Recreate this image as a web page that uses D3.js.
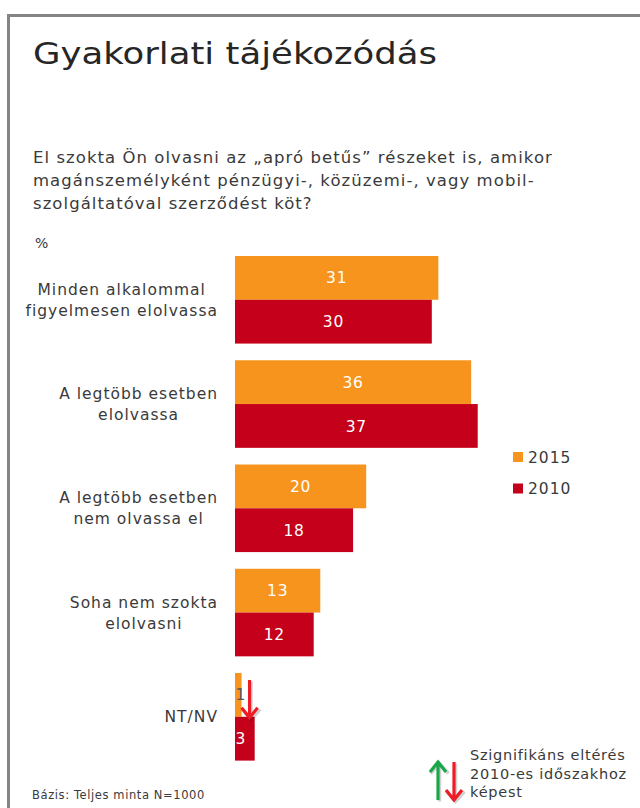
<!DOCTYPE html>
<html><head><meta charset="utf-8">
<script src="https://cdn.jsdelivr.net/npm/d3@7"></script>
<style>
body{margin:0;background:#fff;}
svg{display:block;}
text{font-family:"DejaVu Sans",Verdana,sans-serif;}
</style></head>
<body><svg id="c" width="640" height="808"></svg>
<script>
const categories = [
  ["Minden alkalommal","figyelmesen elolvassa"],
  ["A legtöbb esetben","elolvassa"],
  ["A legtöbb esetben","nem olvassa el"],
  ["Soha nem szokta","elolvasni"],
  ["NT/NV"]
];
const series = ["2015","2010"];
const values2015 = [31,36,20,13,1];
const values2010 = [30,37,18,12,3];
const significantDown = [false,false,false,false,true];
const title = "Gyakorlati tájékozódás";
const question = ["El szokta Ön olvasni az „apró betűs” részeket is, amikor",
  "magánszemélyként pénzügyi-, közüzemi-, vagy mobil-",
  "szolgáltatóval szerződést köt?"];
const unitLabel = "%";
const baseNote = "Bázis: Teljes minta N=1000";
const sigNote = ["Szignifikáns eltérés","2010-es időszakhoz","képest"];

const colors = {"2015":"#F7941E","2010":"#C4001A"};
const textCol = "#3a3a3a";
const svg = d3.select("#c");

// frame
svg.append("path").attr("d","M8.5,808 L8.5,15.5 L640,15.5").attr("fill","none").attr("stroke","#858585").attr("stroke-width",3);

svg.append("text").attr("x",33).attr("y",64).attr("font-size",31).attr("fill","#262626")
  .attr("textLength",404).attr("lengthAdjust","spacingAndGlyphs").text(title);

question.forEach((q,i)=>svg.append("text").attr("x",33).attr("y",163+i*23).attr("font-size",16.5)
  .attr("letter-spacing",1.05).attr("fill",textCol).text(q));
svg.append("text").attr("x",35).attr("y",248).attr("font-size",14).attr("fill",textCol).text(unitLabel);

const keys = categories.map((c,i)=>i);
const y = d3.scaleBand().domain(keys).range([256,760.6]).paddingInner(0.16).paddingOuter(0);
const yi = d3.scaleBand().domain(series).range([0,y.bandwidth()]);
const x = d3.scaleLinear().domain([0,40]).range([235,235+262.4]);

const data = [];
keys.forEach(i=>{
  data.push({i,s:"2015",v:values2015[i]});
  data.push({i,s:"2010",v:values2010[i]});
});

svg.append("g").selectAll("rect").data(data).join("rect")
  .attr("x",x(0)).attr("y",d=>y(d.i)+yi(d.s)).attr("width",d=>x(d.v)-x(0)).attr("height",yi.bandwidth())
  .attr("fill",d=>colors[d.s]);

svg.append("g").selectAll("text").data(data).join("text")
  .attr("x",d=>(x(d.v)-x(0))<30 ? x(0)+0.5 : (x(0)+x(d.v))/2)
  .attr("text-anchor",d=>(x(d.v)-x(0))<30 ? "start":"middle")
  .attr("y",d=>y(d.i)+yi(d.s)+yi.bandwidth()/2).attr("dy","0.36em")
  .attr("font-size",15.5).attr("letter-spacing",0.8)
  .attr("fill",d=>(d.s==="2015" && (x(d.v)-x(0))<30) ? "#555" : "#fff")
  .text(d=>d.v);

// category labels
const labG = svg.append("g");
keys.forEach(i=>{
  const lines = categories[i];
  const g = labG.append("g");
  const ts = lines.map((l,j)=>g.append("text").attr("font-size",15.5).attr("letter-spacing",1).attr("fill",textCol).attr("text-anchor","middle")
    .attr("y",y(i)+y.bandwidth()/2 + (j-(lines.length-1)/2)*21).attr("dy","0.36em").text(l));
  const w = d3.max(ts,t=>t.node().getComputedTextLength());
  ts.forEach(t=>t.attr("x",218-w/2));
});

// significance arrows
function arrow(g,xx,y0,y1,col,down){
  const tip = down?y1:y0, tail = down?y0:y1, dir = down?-1:1;
  const p = g.append("g");
  p.append("path").attr("d",`M${xx+1.5},${tail+1.5}L${xx+1.5},${tip+1.5} M${xx-7.5},${tip+dir*10+1.5}L${xx+1.5},${tip+1.5}L${xx+10.5},${tip+dir*10+1.5}`)
    .attr("fill","none").attr("stroke","rgba(0,0,0,0.18)").attr("stroke-width",3.5);
  p.append("path").attr("d",`M${xx},${tail}L${xx},${tip-dir*1} M${xx-8},${tip+dir*10}L${xx},${tip}L${xx+8},${tip+dir*10}`)
    .attr("fill","none").attr("stroke",col).attr("stroke-width",3.2).attr("stroke-linejoin","miter");
}
keys.forEach(i=>{
  if(significantDown[i]){
    arrow(svg, x(values2015[i])+8, y(i)+7, y(i)+yi.bandwidth()+1, "#EE1C25", true);
  }
});

// legend
const leg = svg.append("g");
series.forEach((s,j)=>{
  leg.append("rect").attr("x",513).attr("y",452+j*31.5).attr("width",10).attr("height",10).attr("fill",colors[s]);
  leg.append("text").attr("x",528).attr("y",457+j*31.5).attr("dy","0.36em").attr("font-size",15.5).attr("letter-spacing",1).attr("fill",textCol).text(s);
});

arrow(svg,438,762,800,"#1BA64A",false);
arrow(svg,454,762,800,"#EE1C25",true);
sigNote.forEach((t,j)=>svg.append("text").attr("x",470).attr("y",755+j*18.5).attr("dy","0.36em").attr("font-size",14.5).attr("letter-spacing",0.75).attr("fill",textCol).text(t));
svg.append("text").attr("x",32).attr("y",799).attr("font-size",11.5).attr("letter-spacing",0.6).attr("fill",textCol).text(baseNote);
</script></body></html>
